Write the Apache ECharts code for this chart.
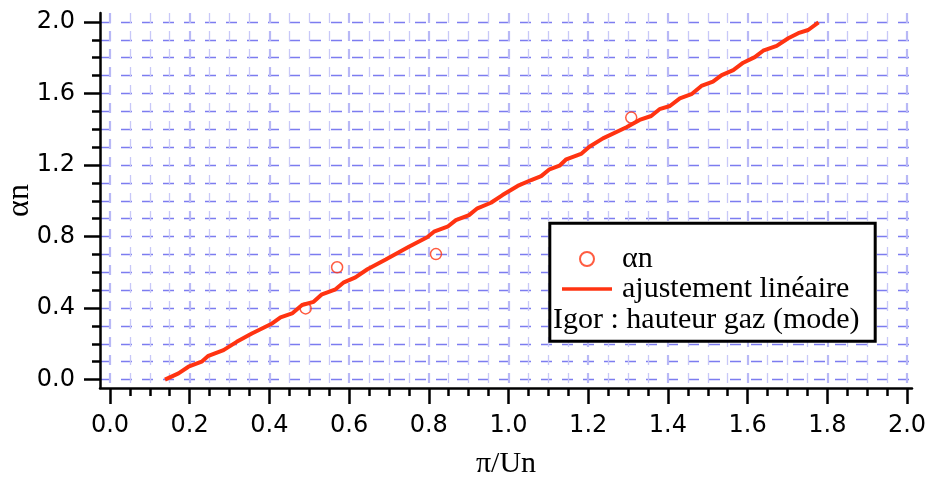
<!DOCTYPE html>
<html>
<head>
<meta charset="utf-8">
<script src="https://cdn.jsdelivr.net/npm/echarts@6/dist/echarts.min.js"></script>
<style>
html,body{margin:0;padding:0;background:#fff;}
#chart{width:930px;height:477px;}
</style>
</head>
<body>
<div id="chart"></div>
<script>
// ---- data ----
const xMajorTicks = [0, 0.2, 0.4, 0.6, 0.8, 1.0, 1.2, 1.4, 1.6, 1.8, 2.0];
const xMinorTicks = [0.05, 0.1, 0.15, 0.25, 0.3, 0.35, 0.45, 0.5, 0.55, 0.65, 0.7, 0.75,
  0.85, 0.9, 0.95, 1.05, 1.1, 1.15, 1.25, 1.3, 1.35, 1.45, 1.5, 1.55, 1.65, 1.7, 1.75,
  1.85, 1.9, 1.95];
const yMajorTicks = [0, 0.4, 0.8, 1.2, 1.6, 2.0];
const yMinorTicks = [0, 0.1, 0.2, 0.3, 0.4, 0.5, 0.6, 0.7, 0.8, 0.9, 1.0, 1.1, 1.2, 1.3,
  1.4, 1.5, 1.6, 1.7, 1.8, 1.9, 2.0];

const alphaX = [0.491, 0.570, 0.818, 1.308];
const alphaY = [0.398, 0.628, 0.702, 1.465];

const fitX = [0.138, 0.172, 0.197, 0.230, 0.247, 0.285, 0.318, 0.356, 0.407, 0.428, 0.457,
  0.482, 0.511, 0.532, 0.566, 0.587, 0.616, 0.646, 0.692, 0.750, 0.796, 0.813, 0.847,
  0.868, 0.901, 0.922, 0.956, 0.985, 1.023, 1.057, 1.082, 1.103, 1.128, 1.145, 1.182,
  1.203, 1.237, 1.296, 1.329, 1.358, 1.379, 1.405, 1.430, 1.459, 1.484, 1.513, 1.535,
  1.564, 1.589, 1.618, 1.639, 1.673, 1.702, 1.727, 1.752, 1.778];
const fitY = [0.000, 0.035, 0.072, 0.100, 0.133, 0.165, 0.211, 0.258, 0.314, 0.348, 0.370,
  0.417, 0.435, 0.477, 0.505, 0.544, 0.572, 0.617, 0.672, 0.743, 0.796, 0.827, 0.855,
  0.892, 0.920, 0.958, 0.989, 1.032, 1.083, 1.116, 1.138, 1.176, 1.196, 1.232, 1.262,
  1.302, 1.349, 1.411, 1.452, 1.474, 1.512, 1.530, 1.573, 1.596, 1.642, 1.666, 1.703,
  1.731, 1.772, 1.803, 1.839, 1.866, 1.909, 1.937, 1.955, 1.998];

const seriesAlphaName = 'αn';
const seriesFitName = 'ajustement linéaire';
const legendExtra = 'Igor : hauteur gaz (mode)';
const xName = 'π/Un';
const yName = 'αn';

// ---- styles ----
const RED = '#ff3311';
const serif = 'Liberation Serif';
const sans = 'DejaVu Sans';
const xMin = -0.025, xMax = 2.0125, yMin = -0.047, yMax = 2.05;

const chart = echarts.init(document.getElementById('chart'), null, {renderer: 'canvas'});

const fmt = v => Number(v).toFixed(1);

const option = {
  animation: false,
  backgroundColor: '#fff',
  grid: {left: 100, right: 18, top: 13, bottom: 89, containLabel: false, outerBoundsMode: 'none'},
  xAxis: [
    {
      type: 'value', min: xMin, max: xMax, position: 'bottom',
      name: xName, nameLocation: 'middle', nameGap: 61, nameMoveOverlap: false,
      nameTextStyle: {fontFamily: serif, fontSize: 30, color: '#000'},
      axisLine: {show: true, onZero: false, lineStyle: {color: '#000', width: 2.5}},
      axisTick: {show: true, inside: false, length: 16, customValues: xMajorTicks,
        lineStyle: {color: '#000', width: 2.5}},
      axisLabel: {show: true, customValues: xMajorTicks, formatter: fmt, margin: 26,
        fontFamily: sans, fontSize: 24, color: '#000'},
      splitLine: {show: true, lineStyle: {color: '#b8b8f6', width: 2.2, type: [10, 8]}}
    },
    {
      type: 'value', min: xMin, max: xMax, position: 'bottom',
      axisLine: {show: false, onZero: false},
      axisTick: {show: true, inside: false, length: 8, customValues: xMinorTicks,
        lineStyle: {color: '#000', width: 2.5}},
      axisLabel: {show: false},
      splitLine: {show: true, lineStyle: {color: '#c8c8f8', width: 1.3, type: [10, 8]}}
    }
  ],
  yAxis: [
    {
      type: 'value', min: yMin, max: yMax, position: 'left',
      name: yName, nameLocation: 'middle', nameGap: 64, nameMoveOverlap: false,
      nameTextStyle: {fontFamily: serif, fontSize: 32, color: '#000'},
      axisLine: {show: true, onZero: false, lineStyle: {color: '#000', width: 2.5}},
      axisTick: {show: true, inside: false, length: 16, customValues: yMajorTicks,
        lineStyle: {color: '#000', width: 2.5}},
      axisLabel: {show: true, customValues: yMajorTicks, formatter: fmt, margin: 25,
        fontFamily: sans, fontSize: 24, color: '#000'},
      splitLine: {show: false}
    },
    {
      type: 'value', min: yMin, max: yMax, position: 'left',
      axisLine: {show: false, onZero: false},
      axisTick: {show: true, inside: false, length: 8, customValues: yMinorTicks,
        lineStyle: {color: '#000', width: 2.5}},
      axisLabel: {show: false},
      splitLine: {show: true, lineStyle: {color: '#7c7cf0', width: 1.3, type: [11, 10]}}
    }
  ],
  legend: {
    show: true, orient: 'vertical', left: 562, top: 244, padding: 0,
    itemWidth: 50, itemHeight: 14, itemGap: 0,
    data: [
      {name: seriesAlphaName},
      {name: seriesFitName, icon: 'path://M0,0H50V3.5H0Z'}
    ],
    textStyle: {fontFamily: serif, fontSize: 30, color: '#000', lineHeight: 30, padding: [0, 0, 0, 5]},
    z: 20
  },
  graphic: [
    {type: 'rect', z: 15, shape: {x: 549.8, y: 223.2, width: 325.4, height: 118},
      style: {fill: '#fff', stroke: '#000', lineWidth: 3}},
    {type: 'text', z: 21, style: {x: 553, y: 320, text: legendExtra, fill: '#000',
      font: '30px "Liberation Serif"', verticalAlign: 'middle', align: 'left'}}
  ],
  series: [
    {
      name: seriesAlphaName, type: 'scatter', xAxisIndex: 0, yAxisIndex: 0,
      symbol: 'circle', symbolSize: 11,
      itemStyle: {color: 'rgba(255,255,255,0)', borderColor: RED, borderWidth: 1.5},
      data: alphaX.map((x, i) => [x, alphaY[i]]),
      z: 3
    },
    {
      name: seriesFitName, type: 'line', xAxisIndex: 0, yAxisIndex: 0,
      symbol: 'none', smooth: false,
      lineStyle: {color: RED, width: 4},
      itemStyle: {color: RED},
      data: fitX.map((x, i) => [x, fitY[i]]),
      z: 4
    }
  ]
};
chart.setOption(option);
</script>
</body>
</html>
